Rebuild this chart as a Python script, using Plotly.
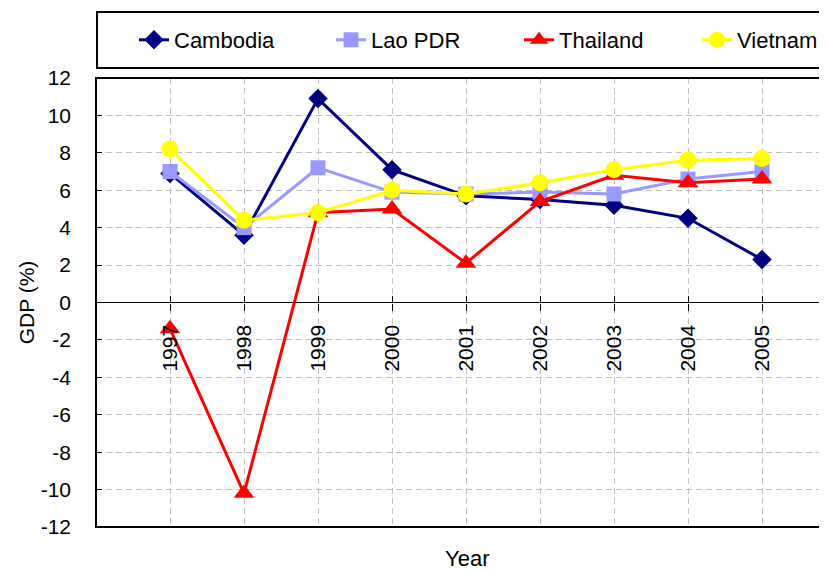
import plotly.graph_objects as go

years = [1997, 1998, 1999, 2000, 2001, 2002, 2003, 2004, 2005]
year_labels = [str(y) for y in years]
cambodia = [6.9, 3.6, 10.9, 7.1, 5.7, 5.5, 5.2, 4.5, 2.3]
lao = [7.0, 4.0, 7.2, 5.9, 5.8, 5.9, 5.8, 6.6, 7.0]
thailand = [-1.4, -10.2, 4.8, 5.0, 2.1, 5.4, 6.8, 6.4, 6.6]
vietnam = [8.2, 4.4, 4.8, 6.0, 5.8, 6.4, 7.1, 7.6, 7.7]
y_ticks = list(range(-12, 13, 2))
y_tick_labels = [str(v) for v in y_ticks]  # ASCII hyphen-minus as in the reference

FONT = "Liberation Sans, Arial, sans-serif"

# page is offset by the 8px body margin -> figure is 819x565
OFF = 8
PLOT_L, PLOT_R, PLOT_T, PLOT_B = 96, 827, 78, 527  # page pixels
PW, PH = PLOT_R - PLOT_L, PLOT_B - PLOT_T


def px_x(px):
    return (px - PLOT_L) / PW


def px_y(py):
    return (PLOT_B - py) / PH


fig = go.Figure()
series = [
    ("Cambodia", cambodia, "#000080", "diamond", 15, "legend", 175),
    ("Lao PDR", lao, "#9999FF", "square", 15, "legend2", 372),
    ("Thailand", thailand, "#FF0000", "triangle-up", 18, "legend3", 560),
    ("Vietnam", vietnam, "#FFFF00", "circle", 17, "legend4", 738),
]
legend_layout = {}
for name, vals, col, sym, sz, lg, text_x in series:
    fig.add_trace(go.Scatter(
        x=years, y=vals, name=name, mode="lines+markers",
        line=dict(color=col, width=3),
        marker=dict(symbol=sym, size=sz, color=col, line=dict(width=0)),
        cliponaxis=False, legend=lg,
    ))
    legend_layout[lg] = dict(
        orientation="h", x=px_x(text_x - 41), y=px_y(40), xanchor="left",
        yanchor="middle", font=dict(size=22), bgcolor="rgba(0,0,0,0)",
        borderwidth=0,
    )

fig.update_layout(
    width=827 - OFF, height=573 - OFF,
    margin=dict(l=PLOT_L - OFF, r=0, t=PLOT_T - OFF, b=573 - PLOT_B),
    paper_bgcolor="white", plot_bgcolor="white",
    font=dict(family=FONT, size=21, color="black"),
    showlegend=True,
    **legend_layout,
    xaxis=dict(
        range=[1996, 1996 + PW / 74.0], tickvals=years, ticktext=year_labels,
        tickangle=-90, showgrid=True, gridcolor="#BFBFBF", griddash="6px,4px",
        gridwidth=1, anchor="free", position=0.5, showline=False,
        ticks="outside", ticklen=7, tickcolor="black", zeroline=False,
        tickfont=dict(size=21), ticklabelstandoff=6,
    ),
    xaxis2=dict(
        range=[1996, 1996 + PW / 74.0], tickvals=years, showticklabels=False,
        overlaying="x", anchor="free", position=0.5, showgrid=False,
        ticks="inside", ticklen=7, tickcolor="black", showline=False, zeroline=False,
    ),
    yaxis=dict(
        range=[-12, 12], tickvals=y_ticks, ticktext=y_tick_labels,
        showgrid=True, gridcolor="#BFBFBF",
        griddash="6px,4px", gridwidth=1, zeroline=True, zerolinecolor="black",
        zerolinewidth=1, ticks="inside", ticklen=6, tickcolor="black",
        showline=False, tickfont=dict(size=21), ticklabelstandoff=24,
        title=dict(text="GDP (%)", font=dict(size=21), standoff=0),
    ),
    shapes=[
        dict(type="rect", xref="paper", yref="paper", x0=0, x1=1.05, y0=0, y1=1,
             line=dict(color="black", width=2), fillcolor="rgba(0,0,0,0)", layer="above"),
        dict(type="rect", xref="paper", yref="paper", x0=px_x(97), x1=1.05,
             y0=px_y(68), y1=px_y(12),
             line=dict(color="black", width=2), fillcolor="rgba(0,0,0,0)"),
    ],
    annotations=[
        dict(text="Year", xref="paper", yref="paper", x=px_x(467),
             y=px_y(573), xanchor="center", yanchor="bottom",
             showarrow=False, font=dict(size=22)),
    ],
)
# invisible trace to activate the xaxis2 tick marks (ticks crossing the zero line)
fig.add_trace(go.Scatter(x=[years[0]], y=[0], xaxis="x2", mode="markers",
                         marker=dict(opacity=0), showlegend=False, hoverinfo="skip"))

fig.write_html("out.html")
